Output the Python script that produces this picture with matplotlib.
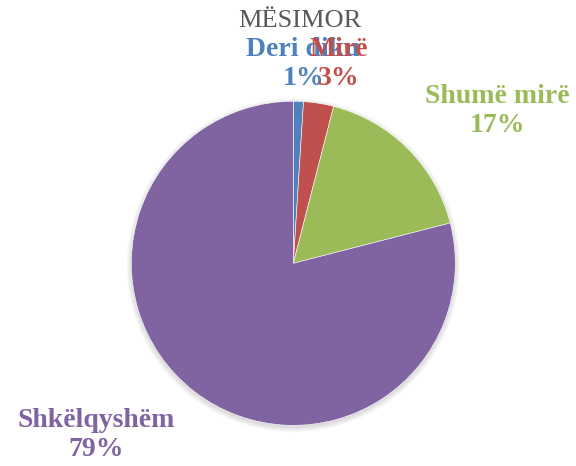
import matplotlib
matplotlib.use("Agg")
import matplotlib.pyplot as plt
from matplotlib.patches import Circle

title = "MËSIMOR"
categories = ["Deri diku", "Mirë", "Shumë mirë", "Shkëlqyshëm"]
shares = [1, 3, 17, 79]
colors = ["#4F81BD", "#C0504D", "#9BBB59", "#8064A2"]

# where each label sits (pie radius = 1)
label_pos = [(0.06, 1.23), (0.28, 1.23), (1.26, 0.94), (-1.22, -1.06)]

fig = plt.figure(figsize=(5.76, 4.66), dpi=100)
ax = fig.add_axes([0, 0, 1, 1])

# soft shadow under the pie
for i in range(6):
    ax.add_patch(Circle((0, -0.012), 1.0 + 0.006 * i, color="black", alpha=0.025,
                        lw=0, zorder=0))

wedges, _ = ax.pie(shares, colors=colors, startangle=90, counterclock=False,
                   wedgeprops=dict(edgecolor="white", linewidth=0.4, zorder=1))
ax.set_aspect("auto")
ax.set_xlim(-1.811, 1.745)
ax.set_ylim(-1.251, 1.625)
ax.axis("off")

total = sum(shares)
for name, val, col, (x, y) in zip(categories, shares, colors, label_pos):
    ax.text(x, y, f"{name}\n{val / total:.0%}", color=col, ha="center", va="center",
            fontsize=20, fontweight="bold", family="Liberation Serif", linespacing=1.22)

fig.text(0.52, 0.955, title, ha="center", va="center", fontsize=19,
         color="#595959", family="Liberation Serif")

fig.savefig("out.png", dpi=100)
